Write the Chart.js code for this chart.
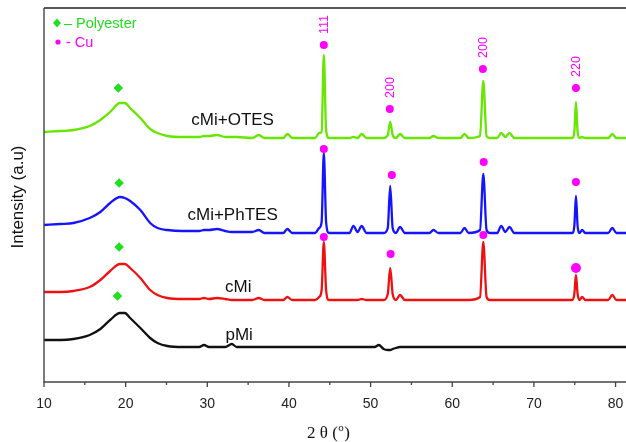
<!DOCTYPE html>
<html><head><meta charset="utf-8">
<script src="https://cdn.jsdelivr.net/npm/chart.js@4"></script>
<style>html,body{margin:0;padding:0;background:#fff;overflow:hidden;width:626px;height:442px}</style>
</head><body>
<canvas id="c" width="632" height="442"></canvas>
<script>
// 2-theta grid (degrees)
const theta = [10,12,13.6,15.6,16.9,18.1,19.3,19.9,20.55,21.8,23.0,23.9,25.1,27,29,29.6,30.2,31.2,32.2,33.0,33.6,35.5,36.3,37,39.3,39.8,40.4,43.2,43.7,44.0,44.27,44.55,44.9,47.4,47.9,48.4,48.9,49.5,50.5,51.0,51.6,52.1,52.4,52.7,53.1,53.6,54.2,57.2,57.7,58.3,61.0,61.5,62.0,63.4,63.8,64.2,64.6,65.5,66.0,66.5,67.0,67.6,74.7,74.95,75.15,75.35,75.6,75.9,76.3,79.1,79.6,80.1,81.4];
// Intensities (a.u.), stacked offsets as in the figure
const otes  = [250,251,252,256,262,270,279,279,274,264,253,249,246,245,245,246,246,247,245,245,245,244,247,244,244,248,244,244,249,250,327,252,244,244,245,244,248,244,244,244,244,247,260,247,244,248,244,244,246,244,244,248,244,246,301,246,244,244,249,245,249,244,244,250,280,250,244,245,244,244,248,244,244];
const phtes = [157,158,159,164,170,179,185,184,181,172,159,154,152,151,151,152,152,153,151,150,150,150,152,149,149,153,149,149,154,160,229,160,149,149,156,150,156,149,149,149,149,154,196,154,149,155,149,149,152,149,149,154,149,152,208,152,149,149,156,150,155,149,149,156,186,156,149,152,149,149,154,149,149];
const cmi   = [90,90,91,95,102,111,118,118,114,104,92,87,84,83,83,84,83,84,83,82,82,82,84,82,82,85,82,82,85,92,140,92,82,82,82,82,83,82,82,82,82,88,114,88,82,87,82,82,82,82,82,82,82,85,140,85,82,82,82,82,82,82,82,88,107,88,82,85,82,82,87,82,82];
const pmi   = [42,42,43,47,53,62,69,69,64,54,44,39,36,35,35,37,35,35,35,38,35,35,35,35,35,35,35,35,35,35,35,35,35,35,35,35,35,35,35,37,33,32,32,33,34,35,35,35,35,35,35,35,35,35,35,35,35,35,35,35,35,35,35,35,35,35,35,35,35,35,35,35,35];
const seriesNames = ['cMi+OTES','cMi+PhTES','cMi','pMi'];
// Cu reflections marked on each pattern
const cuTheta     = [44.27,52.35,63.75,75.15, 44.27,52.6,63.85,75.15, 44.27,52.45,63.8,75.15];
const cuIntensity = [337,273,313,294, 233,207,220,200, 145,128,147,114];
const hklLabels   = ['111','200','200','220'];
// Polyester hump markers
const polyTheta     = [19.1,19.2,19.2,19.0];
const polyIntensity = [294,199,135,86];
// axis ticks
const xTicks = [10,20,30,40,50,60,70,80];
const xMinorTicks = [15,25,35,45,55,65,75];

const colors = {otes:'#66e600', phtes:'#1414ff', cmi:'#ee1111', pmi:'#111111', cu:'#ff00ff', poly:'#1fe01f'};
const lineColors = [colors.otes, colors.phtes, colors.cmi, colors.pmi];
const nameAnchors = [{x:33.1,y:262},{x:33.1,y:167},{x:33.8,y:95},{x:33.9,y:47}];

const pts = (xs, ys) => xs.map((t,i)=>({x:t,y:ys[i]}));

const decor = {
  id:'decor',
  afterDatasetsDraw(chart){
    const {ctx, chartArea:a, scales:{x,y}} = chart;
    ctx.save();
    ctx.strokeStyle = '#222'; ctx.lineWidth = 1.6;
    ctx.beginPath();
    ctx.moveTo(a.left, a.top); ctx.lineTo(a.right, a.top);
    ctx.stroke();
    ctx.strokeStyle = '#444'; ctx.lineWidth = 1.4;
    ctx.beginPath();
    ctx.moveTo(a.left, a.top); ctx.lineTo(a.left, a.bottom); ctx.lineTo(a.right, a.bottom);
    ctx.stroke();
    ctx.lineWidth = 1.3;
    ctx.beginPath();
    xTicks.forEach(v=>{const px=x.getPixelForValue(v); ctx.moveTo(px,a.bottom); ctx.lineTo(px,a.bottom+5);});
    xMinorTicks.forEach(v=>{const px=x.getPixelForValue(v); ctx.moveTo(px,a.bottom); ctx.lineTo(px,a.bottom+3);});
    ctx.stroke();
    ctx.fillStyle = '#111';
    ctx.font = '17px "Liberation Sans", Arial, sans-serif';
    ctx.textAlign = 'center'; ctx.textBaseline = 'middle';
    seriesNames.forEach((n,i)=>{
      ctx.fillText(n, x.getPixelForValue(nameAnchors[i].x), y.getPixelForValue(nameAnchors[i].y));
    });
    ctx.fillStyle = colors.cu;
    ctx.font = '12.5px "Liberation Sans", Arial, sans-serif';
    ctx.textAlign = 'left'; ctx.textBaseline = 'middle';
    hklLabels.forEach((l,i)=>{
      const px = x.getPixelForValue(cuTheta[i]), py = y.getPixelForValue(cuIntensity[i]);
      ctx.save(); ctx.translate(px+0.5, py-11); ctx.rotate(-Math.PI/2);
      ctx.fillText(l, 0, 0); ctx.restore();
    });
    ctx.font = '14.5px "Liberation Sans", Arial, sans-serif';
    ctx.textAlign = 'left'; ctx.textBaseline = 'middle';
    const lx = a.left + 13, ly1 = a.top + 15, ly2 = a.top + 34;
    ctx.fillStyle = colors.poly;
    ctx.beginPath();
    ctx.moveTo(lx, ly1-4.5); ctx.lineTo(lx+4, ly1); ctx.lineTo(lx, ly1+4.5); ctx.lineTo(lx-4, ly1); ctx.closePath(); ctx.fill();
    ctx.fillText('\u2013 Polyester', lx+7, ly1+0.5);
    ctx.fillStyle = colors.cu;
    ctx.beginPath(); ctx.arc(lx+1, ly2, 2.6, 0, Math.PI*2); ctx.fill();
    ctx.fillText('- Cu', lx+9, ly2+0.5);
    ctx.fillStyle = '#111';
    ctx.font = '17px "Liberation Sans", Arial, sans-serif';
    ctx.save(); ctx.translate(18, (a.top+a.bottom)/2 + 2); ctx.rotate(-Math.PI/2);
    ctx.textAlign='center'; ctx.textBaseline='middle';
    ctx.fillText('Intensity (a.u)', 0, 0); ctx.restore();
    const f1 = '17px "Liberation Serif", "Times New Roman", serif';
    const f2 = '11px "Liberation Serif", "Times New Roman", serif';
    ctx.textBaseline = 'alphabetic'; ctx.textAlign = 'left';
    ctx.font = f1; const w1 = ctx.measureText('2 \u03b8 (').width, w3 = ctx.measureText(')').width;
    ctx.font = f2; const w2 = ctx.measureText('o').width;
    let tx = 328 - (w1+w2+w3)/2; const ty = 438;
    ctx.font = f1; ctx.fillText('2 \u03b8 (', tx, ty); tx += w1;
    ctx.font = f2; ctx.fillText('o', tx+0.5, ty-7); tx += w2+1;
    ctx.font = f1; ctx.fillText(')', tx, ty);
    ctx.restore();
  }
};

new Chart(document.getElementById('c'), {
  type:'scatter',
  data:{datasets:[
    {label:'Cu', data:pts(cuTheta,cuIntensity), backgroundColor:colors.cu, borderWidth:0,
     pointRadius:[4,4,4,4, 4,4,4,4, 4,4,4,5], showLine:false},
    {label:'Polyester', data:pts(polyTheta,polyIntensity), backgroundColor:colors.poly, borderWidth:0,
     pointStyle:'rectRot', pointRadius:4.8, showLine:false},
    {label:seriesNames[0], data:pts(theta,otes), showLine:true, borderColor:lineColors[0], borderWidth:2.3, pointRadius:0, cubicInterpolationMode:'monotone'},
    {label:seriesNames[1], data:pts(theta,phtes), showLine:true, borderColor:lineColors[1], borderWidth:2.3, pointRadius:0, cubicInterpolationMode:'monotone'},
    {label:seriesNames[2], data:pts(theta,cmi), showLine:true, borderColor:lineColors[2], borderWidth:2.3, pointRadius:0, cubicInterpolationMode:'monotone'},
    {label:seriesNames[3], data:pts(theta,pmi), showLine:true, borderColor:lineColors[3], borderWidth:2.3, pointRadius:0, cubicInterpolationMode:'monotone'}
  ]},
  options:{
    responsive:false, animation:false, devicePixelRatio:1,
    layout:{padding:{left:44, top:8, right:0, bottom:0}},
    plugins:{legend:{display:false}, tooltip:{enabled:false}},
    scales:{
      x:{type:'linear', min:10, max:81.4,
         grid:{display:false, drawTicks:false}, border:{display:false},
         afterBuildTicks:(s)=>{s.ticks = xTicks.map(v=>({value:v}));},
         afterFit:(s)=>{s.height = 60; s.paddingLeft = 0; s.paddingRight = 0;},
         ticks:{padding:14, color:'#222', font:{family:'"Liberation Sans", Arial, sans-serif', size:14}, maxRotation:0, autoSkip:false}},
      y:{display:false, min:0, max:374}
    }
  },
  plugins:[decor]
});
</script>
</body></html>
